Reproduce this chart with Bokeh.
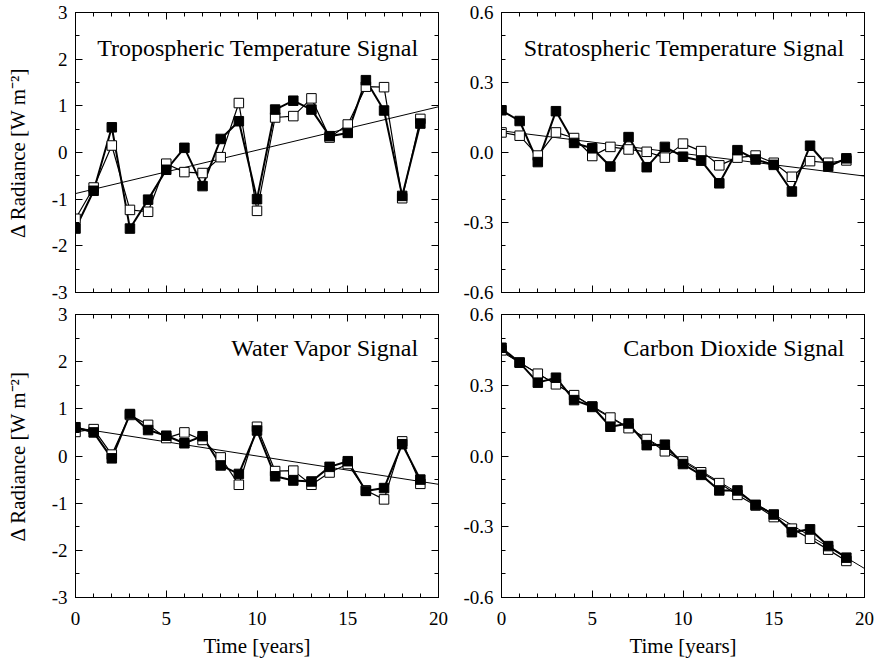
from bokeh.plotting import figure
from bokeh.models import (Range1d, LinearAxis, SingleIntervalTicker, PrintfTickFormatter,
                          CustomJSTickFormatter, Label)
from bokeh.layouts import column, row
from bokeh.embed import file_html
from bokeh.resources import INLINE

# ---------------- data ----------------
years = list(range(20))
trend_x = [0, 20]

trop_filled = [-1.63, -0.82, 0.54, -1.63, -1.01, -0.37, 0.10, -0.72, 0.29, 0.67,
               -1.00, 0.92, 1.11, 0.92, 0.35, 0.42, 1.55, 0.90, -0.93, 0.62]
trop_open = [-1.42, -0.75, 0.15, -1.23, -1.27, -0.24, -0.42, -0.44, -0.10, 1.06,
             -1.25, 0.75, 0.78, 1.16, 0.32, 0.60, 1.41, 1.40, -0.98, 0.72]
trop_trend = [-0.88, 0.98]

strat_filled = [0.181, 0.135, -0.041, 0.177, 0.041, 0.018, -0.060, 0.066, -0.063, 0.024,
                -0.018, -0.035, -0.132, 0.010, -0.030, -0.053, -0.167, 0.029, -0.060, -0.025]
strat_open = [0.086, 0.072, -0.013, 0.086, 0.062, -0.015, 0.024, 0.013, 0.003, -0.022,
              0.038, 0.006, -0.055, -0.022, -0.013, -0.044, -0.104, -0.037, -0.044, -0.034]
strat_trend = [0.093, -0.101]

wv_filled = [0.61, 0.50, -0.05, 0.89, 0.55, 0.43, 0.27, 0.42, -0.20, -0.38,
             0.54, -0.43, -0.52, -0.54, -0.23, -0.11, -0.74, -0.68, 0.25, -0.50]
wv_open = [0.51, 0.57, 0.03, 0.87, 0.66, 0.38, 0.50, 0.34, -0.03, -0.61,
           0.62, -0.32, -0.31, -0.61, -0.35, -0.17, -0.73, -0.92, 0.31, -0.59]
wv_trend = [0.60, -0.60]

co2_filled = [0.459, 0.396, 0.311, 0.332, 0.237, 0.210, 0.124, 0.138, 0.046, 0.048,
              -0.034, -0.080, -0.146, -0.146, -0.207, -0.248, -0.323, -0.311, -0.382, -0.431]
co2_open = [0.448, 0.396, 0.349, 0.304, 0.258, 0.208, 0.163, 0.118, 0.072, 0.020,
            -0.023, -0.069, -0.115, -0.165, -0.210, -0.259, -0.308, -0.351, -0.397, -0.445]
co2_trend = [0.442, -0.477]

titles = ["Tropospheric Temperature Signal", "Stratospheric Temperature Signal",
          "Water Vapor Signal", "Carbon Dioxide Signal"]
ylabel = "\u0394 Radiance [W m\u207b\u00b2]"
xlabel = "Time [years]"

FONT = "'Liberation Serif', 'Times New Roman', serif"
TICK_SIZE = "19px"


def add_axis(p, side, interval, nminor, fmt, show_labels, label=None):
    ax = LinearAxis(ticker=SingleIntervalTicker(interval=interval, num_minor_ticks=nminor))
    ax.major_tick_in = 7
    ax.major_tick_out = 0
    ax.minor_tick_in = 4
    ax.minor_tick_out = 0
    ax.axis_line_color = "black"
    ax.major_tick_line_color = "black"
    ax.minor_tick_line_color = "black"
    if show_labels:
        ax.formatter = PrintfTickFormatter(format=fmt)
        ax.major_label_text_font = FONT
        ax.major_label_text_font_size = TICK_SIZE
        ax.major_label_text_color = "black"
        ax.major_label_standoff = 14 if side == "below" else 8
    else:
        ax.formatter = CustomJSTickFormatter(code="return ''")
        ax.major_label_text_font_size = "1px"
        ax.major_label_standoff = 0
    if label:
        ax.axis_label = label
        ax.axis_label_text_font = FONT
        ax.axis_label_text_font_size = "21px"
        ax.axis_label_text_font_style = "normal"
        ax.axis_label_text_color = "black"
        ax.axis_label_standoff = 6 if side == "below" else 19
    p.add_layout(ax, side)


def panel(filled, opened, trend, ymax, yint, ynminor, yfmt, title, title_y,
          left_col, bottom_row):
    p = figure(frame_width=363, frame_height=283 if bottom_row else 280,
               x_range=Range1d(0, 20), y_range=Range1d(-ymax, ymax),
               x_axis_type=None, y_axis_type=None,
               output_backend="svg", toolbar_location=None,
               min_border_left=75 if left_col else 53,
               min_border_right=10,
               min_border_top=11 if bottom_row else 12,
               min_border_bottom=64 if bottom_row else 11)
    p.grid.visible = False
    p.outline_line_color = "black"
    p.outline_line_width = 1
    p.background_fill_color = "white"
    p.border_fill_color = "white"

    add_axis(p, "below", 5, 5, "%d", bottom_row, xlabel if bottom_row else None)
    add_axis(p, "above", 5, 5, "%d", False)
    add_axis(p, "left", yint, ynminor, yfmt, True, ylabel if left_col else None)
    add_axis(p, "right", yint, ynminor, yfmt, False)

    p.line(trend_x, trend, line_color="black", line_width=1)
    p.line(years, opened, line_color="black", line_width=1.2)
    p.line(years, filled, line_color="black", line_width=2)
    p.scatter(years, opened, marker="square", size=9.5, fill_color="white",
              line_color="black", line_width=1)
    p.scatter(years, filled, marker="square", size=9.5, fill_color="black",
              line_color="black", line_width=1)

    p.add_layout(Label(x=18.9, y=title_y, text=title, text_align="right",
                       text_baseline="middle", text_font=FONT,
                       text_font_size="24px", text_color="black"))
    return p


tl = panel(trop_filled, trop_open, trop_trend, 3, 1, 2, "%.0f", titles[0], 2.25, True, False)
tr = panel(strat_filled, strat_open, strat_trend, 0.6, 0.3, 3, "%.1f", titles[1], 0.45, False, False)
bl = panel(wv_filled, wv_open, wv_trend, 3, 1, 2, "%.0f", titles[2], 2.28, True, True)
br = panel(co2_filled, co2_open, co2_trend, 0.6, 0.3, 3, "%.1f", titles[3], 0.456, False, True)

layout = column(row(tl, tr), row(bl, br))

with open("out.html", "w") as f:
    f.write(file_html(layout, INLINE))
